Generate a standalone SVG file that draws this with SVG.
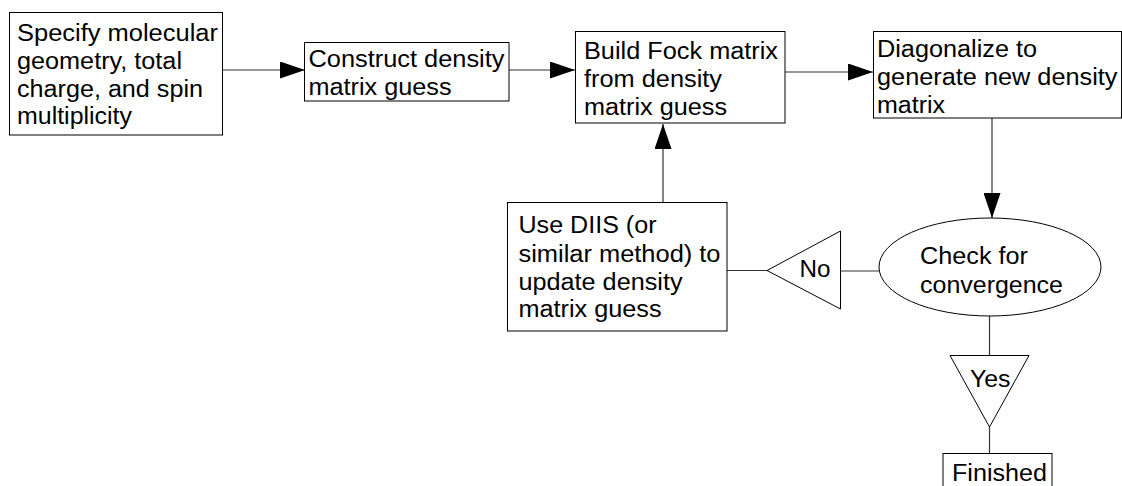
<svg xmlns="http://www.w3.org/2000/svg" width="1122" height="486" viewBox="0 0 1122 486">
<defs>
<style>
.box{fill:#fff;stroke:#000;stroke-width:1}
.ln{fill:none;stroke:#333;stroke-width:1.2}
.t{font-family:"Liberation Sans",Arial,sans-serif;font-size:23px;fill:#000}
</style>
<marker id="ah" markerWidth="25" markerHeight="17" refX="25" refY="8.5" orient="auto" markerUnits="userSpaceOnUse">
<path d="M0,0 L25,8.5 L0,17 Z" fill="#000"/>
</marker>
</defs>
<rect width="1122" height="486" fill="#fff"/>
<g id="connectors">
<line class="ln" x1="222.5" y1="70" x2="305" y2="70" marker-end="url(#ah)"/>
<line class="ln" x1="509" y1="70" x2="575" y2="70" marker-end="url(#ah)"/>
<line class="ln" x1="785" y1="72" x2="873" y2="72" marker-end="url(#ah)"/>
<line class="ln" x1="992" y1="118" x2="992" y2="218" marker-end="url(#ah)"/>
<line class="ln" x1="663" y1="202" x2="663" y2="124" marker-end="url(#ah)"/>
<line class="ln" x1="879" y1="271" x2="840" y2="271"/>
<line class="ln" x1="767" y1="270.5" x2="727" y2="270.5"/>
<line class="ln" x1="989.5" y1="316" x2="989.5" y2="355"/>
<line class="ln" x1="989.5" y1="427" x2="989.5" y2="453"/>
</g>
<g id="n1">
<rect class="box" x="9.5" y="12.5" width="213" height="122.5"/>
<text class="t" x="17" y="41" textLength="201" lengthAdjust="spacingAndGlyphs">Specify molecular</text>
<text class="t" x="17" y="69" textLength="165" lengthAdjust="spacingAndGlyphs">geometry, total</text>
<text class="t" x="17" y="97" textLength="186" lengthAdjust="spacingAndGlyphs">charge, and spin</text>
<text class="t" x="17" y="124" textLength="115" lengthAdjust="spacingAndGlyphs">multiplicity</text>
</g>
<g id="n2">
<rect class="box" x="304.5" y="42.5" width="204.5" height="58.5"/>
<text class="t" x="308.5" y="67" textLength="196" lengthAdjust="spacingAndGlyphs">Construct density</text>
<text class="t" x="308.5" y="95" textLength="143" lengthAdjust="spacingAndGlyphs">matrix guess</text>
</g>
<g id="n3">
<rect class="box" x="575.5" y="31.5" width="209.5" height="91.5"/>
<text class="t" x="584" y="59" textLength="194" lengthAdjust="spacingAndGlyphs">Build Fock matrix</text>
<text class="t" x="584" y="87" textLength="138" lengthAdjust="spacingAndGlyphs">from density</text>
<text class="t" x="584" y="115" textLength="143" lengthAdjust="spacingAndGlyphs">matrix guess</text>
</g>
<g id="n4">
<rect class="box" x="873.5" y="31.5" width="248" height="86.5"/>
<text class="t" x="877" y="57" textLength="160" lengthAdjust="spacingAndGlyphs">Diagonalize to</text>
<text class="t" x="877" y="85" textLength="240.5" lengthAdjust="spacingAndGlyphs">generate new density</text>
<text class="t" x="877" y="113" textLength="68" lengthAdjust="spacingAndGlyphs">matrix</text>
</g>
<g id="n5">
<rect class="box" x="507.5" y="202.5" width="219.5" height="128.5"/>
<text class="t" x="518.5" y="233" textLength="138" lengthAdjust="spacingAndGlyphs">Use DIIS (or</text>
<text class="t" x="518.5" y="262" textLength="202" lengthAdjust="spacingAndGlyphs">similar method) to</text>
<text class="t" x="518.5" y="290" textLength="164" lengthAdjust="spacingAndGlyphs">update density</text>
<text class="t" x="518.5" y="317" textLength="143" lengthAdjust="spacingAndGlyphs">matrix guess</text>
</g>
<g id="n6">
<ellipse class="box" cx="990" cy="267" rx="111" ry="49"/>
<text class="t" x="920" y="264" textLength="108" lengthAdjust="spacingAndGlyphs">Check for</text>
<text class="t" x="920" y="293" textLength="143" lengthAdjust="spacingAndGlyphs">convergence</text>
</g>
<g id="n7">
<polygon class="box" points="840.5,231 840.5,309 767,270.5"/>
<text class="t" x="799.5" y="277" textLength="31" lengthAdjust="spacingAndGlyphs">No</text>
</g>
<g id="n8">
<polygon class="box" points="950,355.5 1029,355.5 989.5,427"/>
<text class="t" x="970" y="387" textLength="40.5" lengthAdjust="spacingAndGlyphs">Yes</text>
</g>
<g id="n9">
<rect class="box" x="943" y="453.5" width="109" height="50"/>
<text class="t" x="952" y="481" textLength="95" lengthAdjust="spacingAndGlyphs">Finished</text>
</g>
</svg>
